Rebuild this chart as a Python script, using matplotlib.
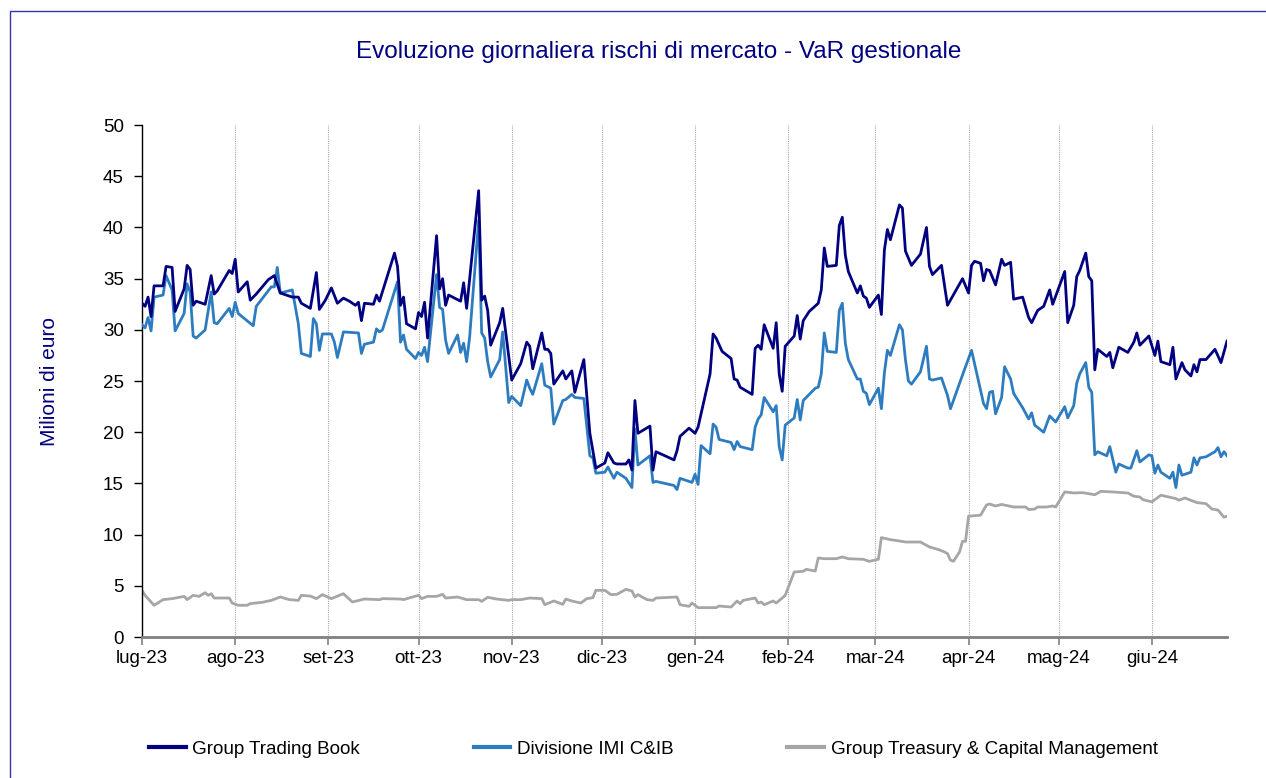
import matplotlib
matplotlib.use("Agg")
import matplotlib.pyplot as plt
from matplotlib.patches import Rectangle
import pandas as pd

plt.rcParams['font.family'] = ['Liberation Sans', 'DejaVu Sans']

# Group Trading Book - VaR gestionale (milioni di euro)
tb_dates = [
    '2023-07-01', '2023-07-02', '2023-07-03', '2023-07-04', '2023-07-05', '2023-07-08', '2023-07-09',
    '2023-07-11', '2023-07-12', '2023-07-15', '2023-07-16', '2023-07-17', '2023-07-18', '2023-07-19',
    '2023-07-22', '2023-07-24', '2023-07-25', '2023-07-26', '2023-07-30', '2023-07-31', '2023-08-01',
    '2023-08-02', '2023-08-05', '2023-08-06', '2023-08-08', '2023-08-12', '2023-08-14', '2023-08-16',
    '2023-08-20', '2023-08-22', '2023-08-23', '2023-08-26', '2023-08-28', '2023-08-29', '2023-08-31',
    '2023-09-02', '2023-09-04', '2023-09-06', '2023-09-08', '2023-09-10', '2023-09-11', '2023-09-12',
    '2023-09-13', '2023-09-16', '2023-09-17', '2023-09-18', '2023-09-23', '2023-09-24', '2023-09-25',
    '2023-09-26', '2023-09-27', '2023-09-30', '2023-10-01', '2023-10-02', '2023-10-03', '2023-10-04',
    '2023-10-07', '2023-10-08', '2023-10-09', '2023-10-10', '2023-10-11', '2023-10-15', '2023-10-16',
    '2023-10-17', '2023-10-21', '2023-10-22', '2023-10-23', '2023-10-24', '2023-10-25', '2023-10-28',
    '2023-10-29', '2023-11-01', '2023-11-04', '2023-11-06', '2023-11-07', '2023-11-08', '2023-11-11',
    '2023-11-12', '2023-11-13', '2023-11-14', '2023-11-15', '2023-11-18', '2023-11-19', '2023-11-21',
    '2023-11-22', '2023-11-25', '2023-11-27', '2023-11-29', '2023-12-02', '2023-12-03', '2023-12-05',
    '2023-12-06', '2023-12-09', '2023-12-10', '2023-12-11', '2023-12-12', '2023-12-13', '2023-12-17',
    '2023-12-18', '2023-12-19', '2023-12-25', '2023-12-26', '2023-12-27', '2023-12-30', '2024-01-01',
    '2024-01-02', '2024-01-06', '2024-01-07', '2024-01-08', '2024-01-10', '2024-01-13', '2024-01-14',
    '2024-01-15', '2024-01-16', '2024-01-20', '2024-01-21', '2024-01-22', '2024-01-23', '2024-01-24',
    '2024-01-27', '2024-01-28', '2024-01-29', '2024-01-30', '2024-01-31', '2024-02-03', '2024-02-04',
    '2024-02-05', '2024-02-06', '2024-02-08', '2024-02-11', '2024-02-12', '2024-02-13', '2024-02-14',
    '2024-02-17', '2024-02-18', '2024-02-19', '2024-02-20', '2024-02-21', '2024-02-24', '2024-02-25',
    '2024-02-26', '2024-02-27', '2024-02-28', '2024-03-02', '2024-03-03', '2024-03-04', '2024-03-05',
    '2024-03-06', '2024-03-09', '2024-03-10', '2024-03-11', '2024-03-13', '2024-03-16', '2024-03-18',
    '2024-03-19', '2024-03-20', '2024-03-23', '2024-03-25', '2024-03-30', '2024-04-01', '2024-04-02',
    '2024-04-03', '2024-04-05', '2024-04-06', '2024-04-07', '2024-04-08', '2024-04-10', '2024-04-12',
    '2024-04-13', '2024-04-15', '2024-04-16', '2024-04-19', '2024-04-21', '2024-04-22', '2024-04-24',
    '2024-04-26', '2024-04-28', '2024-04-29', '2024-05-03', '2024-05-04', '2024-05-06', '2024-05-07',
    '2024-05-08', '2024-05-10', '2024-05-11', '2024-05-12', '2024-05-13', '2024-05-14', '2024-05-17',
    '2024-05-18', '2024-05-19', '2024-05-21', '2024-05-24', '2024-05-26', '2024-05-27', '2024-05-28',
    '2024-05-31', '2024-06-02', '2024-06-03', '2024-06-04', '2024-06-07', '2024-06-08', '2024-06-09',
    '2024-06-11', '2024-06-12', '2024-06-14', '2024-06-15', '2024-06-16', '2024-06-17', '2024-06-19',
    '2024-06-22', '2024-06-24', '2024-06-26',
]
tb_values = [
    32.6, 32.3, 33.2, 31.3, 34.3, 34.3, 36.2,
    36.1, 31.8, 34.0, 36.3, 35.9, 32.4, 32.8,
    32.5, 35.3, 33.5, 33.8, 35.8, 35.5, 36.9,
    33.7, 34.7, 32.9, 33.5, 34.9, 35.3, 33.6,
    33.2, 33.2, 32.6, 32.1, 35.6, 32.0, 32.9,
    34.1, 32.6, 33.1, 32.8, 32.4, 32.7, 30.9,
    32.6, 32.5, 33.4, 32.8, 37.5, 36.2, 32.4,
    33.2, 30.6, 30.1, 31.7, 31.3, 32.7, 29.2,
    39.2, 34.0, 35.0, 32.4, 33.4, 32.8, 34.6,
    32.1, 43.6, 32.9, 33.3, 31.9, 28.5, 30.7,
    32.1, 25.1, 26.7, 28.8, 28.4, 26.2, 29.7,
    28.1, 28.1, 27.7, 24.7, 26.0, 25.2, 26.0,
    23.9, 27.1, 19.9, 16.5, 17.0, 18.0, 17.0,
    16.9, 16.9, 17.3, 16.3, 23.1, 19.9, 20.6,
    16.3, 18.1, 17.3, 18.2, 19.6, 20.4, 19.9,
    20.5, 25.7, 29.6, 29.2, 27.9, 27.2, 25.2,
    25.1, 24.4, 23.7, 28.2, 28.5, 28.1, 30.5,
    28.2, 30.7, 25.7, 24.0, 28.4, 29.4, 31.4,
    29.1, 30.9, 31.8, 32.6, 33.9, 38.0, 36.2,
    36.3, 40.2, 41.0, 37.3, 35.7, 33.6, 34.3,
    33.3, 33.1, 32.2, 33.4, 31.5, 37.8, 39.8,
    38.8, 42.2, 41.9, 37.7, 36.3, 37.4, 40.0,
    36.2, 35.4, 36.3, 32.4, 35.0, 33.6, 36.3,
    36.7, 36.5, 34.8, 35.9, 35.8, 34.4, 36.9,
    36.3, 36.6, 33.0, 33.2, 31.2, 30.7, 31.9,
    32.3, 33.9, 32.5, 35.7, 30.7, 32.4, 35.2,
    35.8, 37.5, 35.2, 34.8, 26.1, 28.1, 27.4,
    27.8, 26.3, 28.3, 27.8, 28.8, 29.7, 28.5,
    29.4, 27.5, 28.9, 26.9, 26.6, 28.3, 25.2,
    26.8, 26.1, 25.5, 26.6, 25.9, 27.1, 27.1,
    28.1, 26.8, 28.9,
]

# Divisione IMI C&IB
imi_dates = [
    '2023-07-01', '2023-07-02', '2023-07-03', '2023-07-04', '2023-07-05', '2023-07-08', '2023-07-09',
    '2023-07-11', '2023-07-12', '2023-07-15', '2023-07-16', '2023-07-17', '2023-07-18', '2023-07-19',
    '2023-07-22', '2023-07-24', '2023-07-25', '2023-07-26', '2023-07-30', '2023-07-31', '2023-08-01',
    '2023-08-02', '2023-08-07', '2023-08-08', '2023-08-13', '2023-08-14', '2023-08-15', '2023-08-16',
    '2023-08-20', '2023-08-22', '2023-08-23', '2023-08-26', '2023-08-27', '2023-08-28', '2023-08-29',
    '2023-08-30', '2023-09-02', '2023-09-03', '2023-09-04', '2023-09-06', '2023-09-11', '2023-09-12',
    '2023-09-13', '2023-09-16', '2023-09-17', '2023-09-18', '2023-09-19', '2023-09-24', '2023-09-25',
    '2023-09-26', '2023-09-27', '2023-09-30', '2023-10-01', '2023-10-02', '2023-10-03', '2023-10-04',
    '2023-10-07', '2023-10-08', '2023-10-09', '2023-10-10', '2023-10-11', '2023-10-14', '2023-10-15',
    '2023-10-16', '2023-10-17', '2023-10-18', '2023-10-21', '2023-10-22', '2023-10-23', '2023-10-24',
    '2023-10-25', '2023-10-28', '2023-10-29', '2023-10-31', '2023-11-01', '2023-11-04', '2023-11-06',
    '2023-11-07', '2023-11-08', '2023-11-11', '2023-11-12', '2023-11-14', '2023-11-15', '2023-11-18',
    '2023-11-19', '2023-11-21', '2023-11-22', '2023-11-25', '2023-11-27', '2023-11-28', '2023-11-29',
    '2023-12-02', '2023-12-03', '2023-12-05', '2023-12-06', '2023-12-09', '2023-12-11', '2023-12-12',
    '2023-12-13', '2023-12-17', '2023-12-18', '2023-12-19', '2023-12-25', '2023-12-26', '2023-12-27',
    '2023-12-31', '2024-01-01', '2024-01-02', '2024-01-03', '2024-01-06', '2024-01-07', '2024-01-08',
    '2024-01-09', '2024-01-13', '2024-01-14', '2024-01-15', '2024-01-16', '2024-01-20', '2024-01-21',
    '2024-01-22', '2024-01-23', '2024-01-24', '2024-01-27', '2024-01-28', '2024-01-29', '2024-01-30',
    '2024-01-31', '2024-02-03', '2024-02-04', '2024-02-05', '2024-02-06', '2024-02-10', '2024-02-11',
    '2024-02-12', '2024-02-13', '2024-02-14', '2024-02-17', '2024-02-18', '2024-02-19', '2024-02-20',
    '2024-02-21', '2024-02-24', '2024-02-25', '2024-02-26', '2024-02-27', '2024-02-28', '2024-03-02',
    '2024-03-03', '2024-03-04', '2024-03-05', '2024-03-06', '2024-03-09', '2024-03-10', '2024-03-11',
    '2024-03-12', '2024-03-13', '2024-03-16', '2024-03-18', '2024-03-19', '2024-03-20', '2024-03-23',
    '2024-03-25', '2024-03-26', '2024-03-30', '2024-04-01', '2024-04-02', '2024-04-06', '2024-04-07',
    '2024-04-08', '2024-04-09', '2024-04-10', '2024-04-12', '2024-04-13', '2024-04-15', '2024-04-16',
    '2024-04-19', '2024-04-21', '2024-04-22', '2024-04-23', '2024-04-26', '2024-04-28', '2024-04-30',
    '2024-05-03', '2024-05-04', '2024-05-06', '2024-05-07', '2024-05-08', '2024-05-10', '2024-05-11',
    '2024-05-12', '2024-05-13', '2024-05-14', '2024-05-17', '2024-05-18', '2024-05-20', '2024-05-21',
    '2024-05-24', '2024-05-25', '2024-05-27', '2024-05-28', '2024-05-31', '2024-06-01', '2024-06-02',
    '2024-06-03', '2024-06-04', '2024-06-07', '2024-06-08', '2024-06-09', '2024-06-10', '2024-06-11',
    '2024-06-14', '2024-06-15', '2024-06-16', '2024-06-17', '2024-06-19', '2024-06-22', '2024-06-23',
    '2024-06-24', '2024-06-25', '2024-06-26',
]
imi_values = [
    30.5, 30.2, 31.2, 29.9, 33.2, 33.4, 35.3,
    33.9, 29.9, 31.6, 34.5, 33.7, 29.4, 29.2,
    30.0, 33.7, 30.7, 30.6, 32.1, 31.3, 32.7,
    31.6, 30.4, 32.3, 34.2, 34.2, 36.1, 33.6,
    33.9, 30.6, 27.7, 27.4, 31.1, 30.6, 28.0,
    29.6, 29.6, 28.8, 27.3, 29.8, 29.7, 27.7,
    28.6, 28.8, 30.1, 29.8, 30.0, 34.7, 28.8,
    29.5, 28.1, 27.2, 27.8, 27.5, 28.3, 26.9,
    35.4, 32.2, 32.0, 29.0, 27.7, 29.5, 27.8,
    28.7, 26.9, 29.3, 40.7, 29.7, 29.2, 26.9,
    25.4, 27.1, 29.8, 22.9, 23.5, 22.6, 25.1,
    24.3, 23.7, 26.7, 24.6, 24.3, 20.8, 23.1,
    23.2, 23.7, 23.4, 23.3, 17.7, 17.5, 16.0,
    16.1, 16.6, 15.5, 16.1, 15.5, 14.6, 20.3,
    16.8, 17.7, 15.1, 15.2, 14.8, 14.4, 15.5,
    15.1, 15.9, 14.9, 18.7, 17.9, 20.8, 20.5,
    19.3, 19.0, 18.3, 19.1, 18.6, 18.3, 20.5,
    21.3, 21.7, 23.4, 22.0, 22.6, 18.6, 17.3,
    20.7, 21.4, 23.2, 21.2, 23.1, 24.3, 24.4,
    25.7, 29.7, 27.9, 27.8, 31.9, 32.6, 28.7,
    27.1, 25.2, 25.2, 24.0, 23.8, 22.7, 24.3,
    22.3, 25.8, 28.0, 27.5, 30.5, 30.0, 27.1,
    25.0, 24.7, 25.9, 28.4, 25.2, 25.1, 25.3,
    23.6, 22.3, 25.6, 27.2, 28.0, 22.8, 22.3,
    23.9, 24.0, 21.8, 23.4, 26.4, 25.2, 23.8,
    22.4, 21.3, 21.9, 20.7, 20.0, 21.6, 21.0,
    22.5, 21.4, 22.6, 24.8, 25.7, 26.8, 24.4,
    23.9, 17.8, 18.1, 17.7, 18.6, 16.1, 16.9,
    16.5, 16.5, 18.2, 17.1, 17.8, 17.7, 16.0,
    16.8, 16.1, 15.5, 16.1, 14.6, 16.8, 15.8,
    16.1, 17.5, 16.8, 17.5, 17.6, 18.1, 18.5,
    17.6, 18.1, 17.7,
]

# Group Treasury & Capital Management
gtcm_dates = [
    '2023-07-01', '2023-07-02', '2023-07-04', '2023-07-05', '2023-07-08', '2023-07-11', '2023-07-15',
    '2023-07-16', '2023-07-18', '2023-07-20', '2023-07-22', '2023-07-23', '2023-07-24', '2023-07-25',
    '2023-07-30', '2023-07-31', '2023-08-02', '2023-08-05', '2023-08-06', '2023-08-10', '2023-08-13',
    '2023-08-16', '2023-08-19', '2023-08-22', '2023-08-23', '2023-08-26', '2023-08-28', '2023-08-30',
    '2023-09-02', '2023-09-06', '2023-09-09', '2023-09-13', '2023-09-18', '2023-09-19', '2023-09-25',
    '2023-09-26', '2023-09-29', '2023-10-01', '2023-10-02', '2023-10-04', '2023-10-07', '2023-10-09',
    '2023-10-10', '2023-10-14', '2023-10-17', '2023-10-21', '2023-10-22', '2023-10-24', '2023-10-27',
    '2023-10-31', '2023-11-01', '2023-11-04', '2023-11-07', '2023-11-11', '2023-11-12', '2023-11-15',
    '2023-11-18', '2023-11-19', '2023-11-21', '2023-11-24', '2023-11-26', '2023-11-28', '2023-11-29',
    '2023-12-02', '2023-12-04', '2023-12-06', '2023-12-09', '2023-12-11', '2023-12-12', '2023-12-13',
    '2023-12-16', '2023-12-18', '2023-12-19', '2023-12-26', '2023-12-27', '2023-12-28', '2023-12-30',
    '2023-12-31', '2024-01-02', '2024-01-08', '2024-01-09', '2024-01-13', '2024-01-15', '2024-01-16',
    '2024-01-17', '2024-01-21', '2024-01-22', '2024-01-23', '2024-01-24', '2024-01-27', '2024-01-28',
    '2024-01-30', '2024-01-31', '2024-02-03', '2024-02-06', '2024-02-07', '2024-02-10', '2024-02-11',
    '2024-02-13', '2024-02-17', '2024-02-19', '2024-02-21', '2024-02-26', '2024-02-28', '2024-03-02',
    '2024-03-03', '2024-03-06', '2024-03-09', '2024-03-11', '2024-03-16', '2024-03-19', '2024-03-22',
    '2024-03-24', '2024-03-25', '2024-03-26', '2024-03-27', '2024-03-29', '2024-03-30', '2024-03-31',
    '2024-04-01', '2024-04-05', '2024-04-07', '2024-04-08', '2024-04-10', '2024-04-12', '2024-04-16',
    '2024-04-20', '2024-04-21', '2024-04-23', '2024-04-24', '2024-04-27', '2024-04-29', '2024-04-30',
    '2024-05-03', '2024-05-06', '2024-05-09', '2024-05-13', '2024-05-15', '2024-05-19', '2024-05-24',
    '2024-05-26', '2024-05-28', '2024-05-29', '2024-06-01', '2024-06-04', '2024-06-09', '2024-06-10',
    '2024-06-12', '2024-06-16', '2024-06-19', '2024-06-21', '2024-06-23', '2024-06-25', '2024-06-26',
]
gtcm_values = [
    4.56, 4.07, 3.42, 3.10, 3.65, 3.75, 3.97,
    3.65, 4.07, 3.97, 4.33, 4.07, 4.23, 3.81,
    3.81, 3.32, 3.10, 3.10, 3.26, 3.39, 3.58,
    3.91, 3.65, 3.58, 4.07, 4.00, 3.75, 4.14,
    3.75, 4.23, 3.42, 3.71, 3.65, 3.75, 3.71,
    3.65, 3.91, 4.07, 3.75, 3.97, 3.97, 4.17,
    3.81, 3.91, 3.65, 3.65, 3.48, 3.88, 3.71,
    3.58, 3.65, 3.65, 3.81, 3.75, 3.16, 3.52,
    3.19, 3.71, 3.52, 3.32, 3.75, 3.84, 4.56,
    4.56, 4.14, 4.17, 4.66, 4.50, 3.91, 4.14,
    3.65, 3.58, 3.81, 3.91, 3.16, 3.10, 3.00,
    3.32, 2.87, 2.87, 3.03, 2.93, 3.52, 3.26,
    3.58, 3.81, 3.32, 3.42, 3.16, 3.52, 3.32,
    3.81, 4.07, 6.35, 6.42, 6.61, 6.45, 7.72,
    7.65, 7.65, 7.82, 7.65, 7.59, 7.39, 7.59,
    9.71, 9.51, 9.38, 9.28, 9.28, 8.80, 8.54,
    8.31, 8.14, 7.50, 7.40, 8.31, 9.35, 9.35,
    11.80, 11.90, 12.90, 12.99, 12.80, 12.95, 12.70,
    12.70, 12.45, 12.50, 12.70, 12.70, 12.80, 12.70,
    14.17, 14.07, 14.10, 13.90, 14.23, 14.17, 14.07,
    13.75, 13.68, 13.42, 13.20, 13.85, 13.52, 13.36,
    13.58, 13.13, 13.03, 12.50, 12.40, 11.70, 11.80,
]

month_labels = ['lug-23', 'ago-23', 'set-23', 'ott-23', 'nov-23', 'dic-23',
                'gen-24', 'feb-24', 'mar-24', 'apr-24', 'mag-24', 'giu-24']
series_names = ['Group Trading Book', 'Divisione IMI C&IB',
                'Group Treasury & Capital Management']

tb_x = pd.to_datetime(tb_dates)
imi_x = pd.to_datetime(imi_dates)
gtcm_x = pd.to_datetime(gtcm_dates)
month_ticks = pd.date_range('2023-07-01', periods=len(month_labels), freq='MS')

fig = plt.figure(figsize=(12.66, 7.78), dpi=100)
ax = fig.add_axes([0.1122, 0.1812, 0.857, 0.658])

# frame around the whole chart area
fig.patches.append(Rectangle((10 / 1266, -0.05), 1.1, 1 - 11 / 778 + 0.05,
                             transform=fig.transFigure, fill=False,
                             edgecolor='#3333aa', linewidth=1.0))

ax.plot(tb_x, tb_values, color='#000080', linewidth=2.0, label=series_names[0], zorder=4)
ax.plot(imi_x, imi_values, color='#2e7cc0', linewidth=2.0, label=series_names[1], zorder=3)
ax.plot(gtcm_x, gtcm_values, color='#a6a6a6', linewidth=2.0, label=series_names[2], zorder=2)

ax.set_xlim(tb_x[0], tb_x[-1])
ax.set_ylim(0, 50)
ax.set_yticks(range(0, 51, 5))
ax.set_xticks(month_ticks)
ax.set_xticklabels(month_labels)

ax.xaxis.grid(True, linestyle=(0, (1, 1)), color='#a8a8a8', linewidth=0.8)
ax.yaxis.grid(False)

for side in ['top', 'right']:
    ax.spines[side].set_visible(False)
ax.spines['left'].set_color('black')
ax.spines['left'].set_linewidth(1.0)
ax.spines['bottom'].set_color('#808080')
ax.spines['bottom'].set_linewidth(2.0)

ax.tick_params(axis='y', direction='out', length=6, width=1, color='black',
               labelsize=13.5, pad=7)
ax.tick_params(axis='x', direction='out', length=6, width=1.2, color='#808080',
               labelsize=13.5, pad=3)

ax.set_ylabel('Milioni di euro', color='#000080', fontsize=15, labelpad=32)

fig.text(0.52, 1 - 52 / 778, 'Evoluzione giornaliera rischi di mercato - VaR gestionale',
         ha='center', va='center', color='#000080', fontsize=17.5)

fig.legend(loc='center', bbox_to_anchor=(0.516, 1 - 749 / 778), ncol=3,
           frameon=False, fontsize=13.6, handlelength=1.95, handletextpad=0.36,
           columnspacing=6.0)
for line in fig.legends[0].get_lines():
    line.set_linewidth(3.0)

fig.savefig('out.png', dpi=100)
